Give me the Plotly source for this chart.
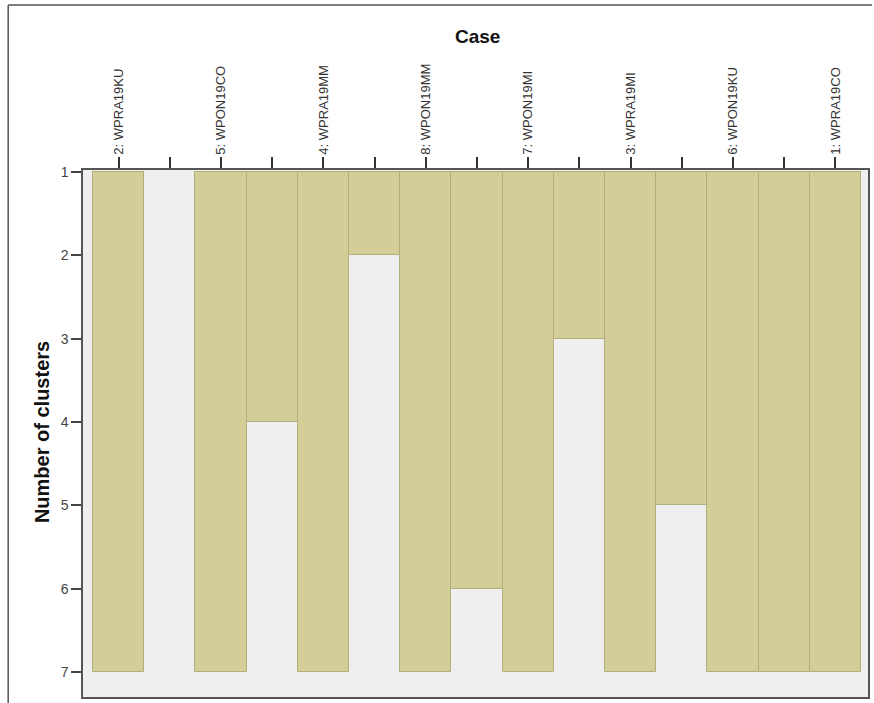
import plotly.graph_objects as go

# Icicle plot of the hierarchical clustering: cases in dendrogram order,
# with the join level between each neighbouring pair.
case_labels = ["2: WPRA19KU", "5: WPON19CO", "4: WPRA19MM", "8: WPON19MM",
               "7: WPON19MI", "3: WPRA19MI", "6: WPON19KU", "1: WPRA19CO"]
# number of clusters down to which each neighbouring pair stays joined
join_levels = [1, 4, 2, 6, 3, 5, 7]
max_clusters = 7
cluster_ticks = [1, 2, 3, 4, 5, 6, 7]

# Interleave case columns and gap columns
positions = []
depths = []
tick_text = []
for i, lab in enumerate(case_labels):
    positions.append(2 * i)
    depths.append(max_clusters)
    tick_text.append(lab)
    if i < len(join_levels):
        positions.append(2 * i + 1)
        depths.append(join_levels[i])
        tick_text.append("")

heights = [d - 1 for d in depths]
edge_widths = [1 if h > 0 else 0 for h in heights]

fig = go.Figure()
fig.add_trace(go.Bar(
    x=positions,
    y=heights,
    base=[1] * len(depths),
    width=1,
    marker=dict(color="#D3CE98", line=dict(color="#B3AE7E", width=edge_widths)),
    hoverinfo="skip",
))

fig.update_layout(
    width=874, height=703,
    margin=dict(l=83, r=4, t=170, b=6),
    paper_bgcolor="white",
    plot_bgcolor="#EFEFEF",
    showlegend=False,
    bargap=0,
    font=dict(family="Liberation Sans, Arial, sans-serif", color="#333"),
    xaxis=dict(
        side="top",
        range=[-0.695, 14.636],
        tickmode="array",
        tickvals=positions,
        ticktext=tick_text,
        tickangle=-90,
        ticks="outside", ticklen=11, tickwidth=1.5, tickcolor="#333",
        tickfont=dict(size=13, color="#333"),
        showgrid=False, zeroline=False,
        showline=True, linecolor="#555", linewidth=1.5, mirror=True,
    ),
    yaxis=dict(
        range=[7.30, 0.976],
        tickmode="array",
        tickvals=cluster_ticks,
        ticks="outside", ticklen=10, tickwidth=1.5, tickcolor="#444",
        tickfont=dict(size=14, color="#444"),
        showgrid=False, zeroline=False,
        showline=True, linecolor="#555", linewidth=1.5, mirror=True,
    ),
    annotations=[
        dict(text="<b>Case</b>", xref="paper", yref="paper",
             x=(479 - 83) / 787, y=1 + (170 - 37) / 527,
             xanchor="center", yanchor="middle",
             showarrow=False, font=dict(size=19, color="#111")),
        dict(text="<b>Number of clusters</b>", xref="paper", yref="paper",
             x=(42 - 83) / 787, y=1 - (432 - 170) / 527,
             xanchor="center", yanchor="middle",
             textangle=-90, showarrow=False, font=dict(size=20, color="#111")),
    ],
    shapes=[
        # outer chart frame (top and left edges)
        dict(type="line", xref="paper", yref="paper",
             x0=(8 - 83) / 787, x1=(874 - 83) / 787,
             y0=1 + (170 - 5) / 527, y1=1 + (170 - 5) / 527,
             line=dict(color="#555", width=1.5)),
        dict(type="line", xref="paper", yref="paper",
             x0=(8 - 83) / 787, x1=(8 - 83) / 787,
             y0=1 + (170 - 5) / 527, y1=-6 / 527,
             line=dict(color="#555", width=1.5)),
    ],
)

fig.write_html("out.html")
